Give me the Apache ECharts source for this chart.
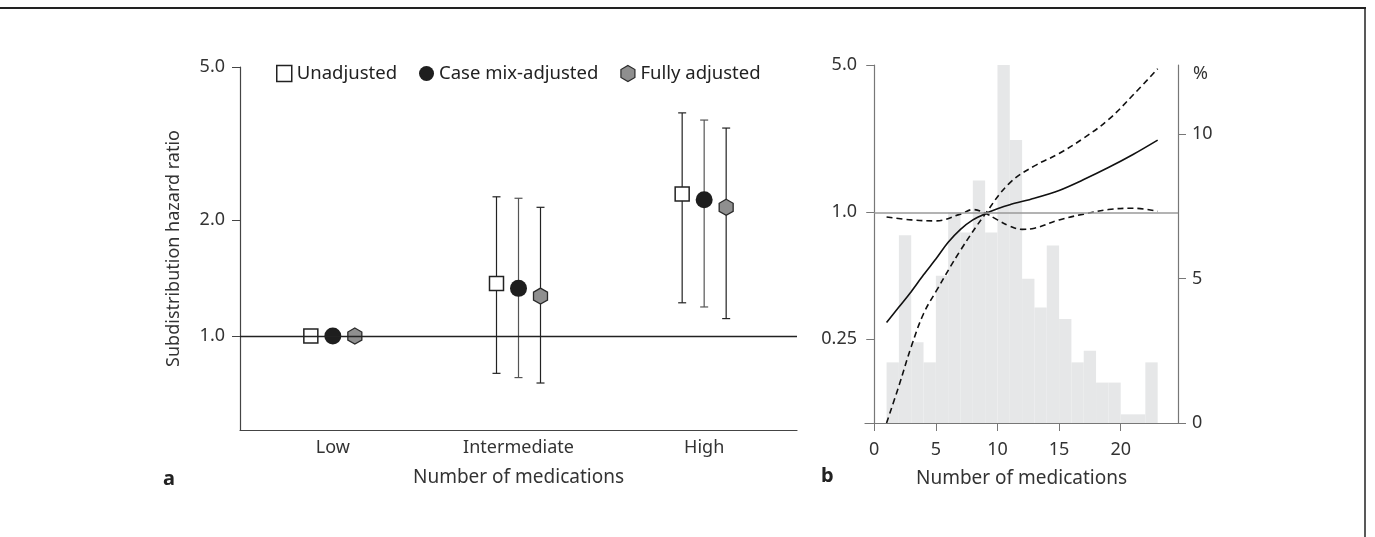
<!DOCTYPE html>
<html>
<head>
<meta charset="utf-8">
<script src="https://cdn.jsdelivr.net/npm/echarts@6/dist/echarts.min.js"></script>
<style>
  html, body { margin: 0; padding: 0; background: #fff; }
  #chart { width: 1375px; height: 537px; }
</style>
</head>
<body>
<div id="chart"></div>
<script>
// panel a: hazard ratio by medication group
const groups = ['Low', 'Intermediate', 'High'];
const unadjEst = [1.0, 1.37, 2.34];
const unadjLo = [null, 0.80, 1.22];
const unadjHi = [null, 2.30, 3.80];
const caseEst = [1.0, 1.33, 2.26];
const caseLo = [null, 0.78, 1.19];
const caseHi = [null, 2.28, 3.64];
const fullEst = [1.0, 1.27, 2.16];
const fullLo = [null, 0.755, 1.11];
const fullHi = [null, 2.16, 3.47];
const leftTicks = [1, 2, 5];

// panel b: spline + histogram
const fitX = [1, 2, 3, 4, 5, 6, 7, 8, 9, 10, 11, 13, 15, 17, 19, 21, 23];
const fitHR = [0.30, 0.355, 0.42, 0.505, 0.60, 0.72, 0.83, 0.92, 0.985, 1.04, 1.087, 1.167, 1.27, 1.43, 1.63, 1.88, 2.2];
const ciAX = [1, 2, 3, 4, 5, 7, 9, 11, 13, 15, 17, 19, 21, 23];
const ciA = [0.1, 0.15, 0.23, 0.33, 0.42, 0.66, 0.98, 1.38, 1.66, 1.9, 2.25, 2.75, 3.6, 4.8];
const ciBX = [1, 3, 5, 7, 8, 9, 10, 11, 12, 13, 15, 17, 19, 21, 23];
const ciB = [0.95, 0.92, 0.91, 0.98, 1.03, 0.99, 0.92, 0.86, 0.83, 0.84, 0.92, 0.98, 1.03, 1.045, 1.01];
const histStart = [1, 2, 3, 4, 5, 6, 7, 8, 9, 10, 11, 12, 13, 14, 15, 16, 17, 18, 19, 20, 21, 22];
const histPct = [2.1, 6.5, 2.8, 2.1, 5.1, 7.3, 6.6, 8.4, 6.6, 12.4, 9.8, 5.0, 4.0, 6.15, 3.6, 2.1, 2.5, 1.4, 1.4, 0.3, 0.3, 2.1];
const rightXTicks = [0, 5, 10, 15, 20];
const rightHRTicks = [0.25, 1, 5];
const pctTicks = [0, 5, 10];

const font = 'Noto Sans';
const txt = '#333';
const hexPath = 'path://M0,-8L7,-4L7,4L0,8L-7,4L-7,-4Z';

const chart = echarts.init(document.getElementById('chart'));

// one estimate series with whiskers, shifted sideways within its category
function dotSeries(name, est, lo, hi, kind, shift, barColor) {
  const data = est.map((v, i) => [i, v, lo[i], hi[i]]);
  return {
    name: name,
    type: 'custom',
    xAxisIndex: 0,
    yAxisIndex: 0,
    data: data,
    renderItem: function (params, api) {
      const i = api.value(0);
      const c = api.coord([i, api.value(1)]);
      const x = c[0] + shift;
      const kids = [];
      const l = api.value(2), h = api.value(3);
      if (l && h) {
        const yl = api.coord([i, l])[1];
        const yh = api.coord([i, h])[1];
        const ls = { stroke: barColor, lineWidth: 1.2 };
        kids.push({ type: 'line', shape: { x1: x, y1: yl, x2: x, y2: yh }, style: ls });
        kids.push({ type: 'line', shape: { x1: x - 4, y1: yl, x2: x + 4, y2: yl }, style: ls });
        kids.push({ type: 'line', shape: { x1: x - 4, y1: yh, x2: x + 4, y2: yh }, style: ls });
      }
      if (kind === 'square') {
        kids.push({ type: 'rect', shape: { x: x - 7, y: c[1] - 7, width: 14, height: 14 },
          style: { fill: '#fff', stroke: '#222', lineWidth: 1.5 } });
      } else if (kind === 'circle') {
        kids.push({ type: 'circle', shape: { cx: x, cy: c[1], r: 8.5 }, style: { fill: '#1e1e1e' } });
      } else {
        const p = [[0, -8], [7, -4], [7, 4], [0, 8], [-7, 4], [-7, -4]].map(q => [x + q[0], c[1] + q[1]]);
        kids.push({ type: 'polygon', shape: { points: p },
          style: { fill: '#8f8f8f', stroke: '#2a2a2a', lineWidth: 1.3 } });
      }
      return { type: 'group', children: kids };
    },
    z: 3
  };
}

const hrFmt = v => (v === 0.25 ? '0.25' : Number(v).toFixed(1));

chart.setOption({
  animation: false,
  textStyle: { fontFamily: font },
  grid: [
    { left: 240, top: 67, width: 557, height: 363 },
    { left: 865, top: 65, width: 313, height: 358 }
  ],
  legend: {
    left: 271,
    top: 59,
    itemWidth: 15,
    itemHeight: 16,
    itemGap: 22,
    textStyle: { fontFamily: font, fontSize: 18.5, color: '#222' },
    data: [
      { name: 'Unadjusted', icon: 'rect', itemStyle: { color: '#fff', borderColor: '#222', borderWidth: 1.5 } },
      { name: 'Case mix-adjusted', icon: 'circle', itemStyle: { color: '#1e1e1e' } },
      { name: 'Fully adjusted', icon: hexPath, itemStyle: { color: '#8f8f8f', borderColor: '#2a2a2a', borderWidth: 1.2 } }
    ]
  },
  xAxis: [
    {
      type: 'category', gridIndex: 0, data: groups,
      boundaryGap: true,
      axisLine: { onZero: false, lineStyle: { color: '#444', width: 1.2 } },
      axisTick: { length: 10, lineStyle: { color: '#444' } },
      axisLabel: { color: txt, fontSize: 18, margin: 9 },
      name: 'Number of medications', nameLocation: 'middle', nameGap: 38,
      nameTextStyle: { color: txt, fontSize: 19 }
    },
    {
      type: 'value', gridIndex: 1, min: -0.75, max: 24.65,
      splitLine: { show: false },
      axisLine: { onZero: false, lineStyle: { color: '#777', width: 1.2 } },
      axisTick: { length: 8, lineStyle: { color: '#777' }, customValues: rightXTicks },
      axisLabel: { color: txt, fontSize: 18, margin: 18, customValues: rightXTicks },
      name: 'Number of medications', nameLocation: 'middle', nameGap: 46,
      nameTextStyle: { color: txt, fontSize: 19 }
    }
  ],
  yAxis: [
    {
      type: 'log', gridIndex: 0, min: 0.57, max: 5,
      splitLine: { show: false },
      axisLine: { show: true, onZero: false, lineStyle: { color: '#444', width: 1.2 } },
      axisTick: { show: true, length: 8, lineStyle: { color: '#444' }, customValues: leftTicks },
      axisLabel: { color: txt, fontSize: 18, margin: 15, customValues: leftTicks, formatter: hrFmt },
      name: 'Subdistribution hazard ratio', nameLocation: 'middle', nameGap: 57,
      nameTextStyle: { color: txt, fontSize: 18 }
    },
    {
      type: 'log', gridIndex: 1, min: 0.1, max: 5,
      splitLine: { show: false },
      axisLine: { show: true, onZero: true, lineStyle: { color: '#777', width: 1.2 } },
      axisTick: { show: true, length: 8, lineStyle: { color: '#777' }, customValues: rightHRTicks },
      axisLabel: { color: txt, fontSize: 18, margin: 8, customValues: rightHRTicks, formatter: hrFmt }
    },
    {
      type: 'value', gridIndex: 1, position: 'right', min: 0, max: 12.4,
      splitLine: { show: false },
      axisLine: { show: true, onZero: false, lineStyle: { color: '#777', width: 1.2 } },
      axisTick: { show: true, length: 8, lineStyle: { color: '#777' }, customValues: pctTicks },
      axisLabel: { color: txt, fontSize: 18, margin: 14, customValues: pctTicks },
      name: '%', nameLocation: 'end', nameGap: -18,
      nameTextStyle: { color: txt, fontSize: 18, align: 'left', padding: [0, 0, 0, 15] }
    }
  ],
  series: [
    {
      type: 'custom', name: 'hist', xAxisIndex: 1, yAxisIndex: 2,
      data: histStart.map((s, i) => [s, s + 1, histPct[i]]),
      renderItem: function (params, api) {
        const p0 = api.coord([api.value(0), 0]);
        const p1 = api.coord([api.value(1), api.value(2)]);
        return { type: 'rect', shape: { x: p0[0], y: p1[1], width: p1[0] - p0[0], height: p0[1] - p1[1] },
          style: { fill: '#e6e7e8' } };
      },
      z: 1
    },
    {
      type: 'line', name: 'fit', xAxisIndex: 1, yAxisIndex: 1,
      data: fitX.map((x, i) => [x, fitHR[i]]),
      smooth: 0.3, symbol: 'none',
      lineStyle: { color: '#111', width: 1.6 },
      markLine: {
        silent: true, symbol: 'none', label: { show: false },
        lineStyle: { color: '#9a9a9a', type: 'solid', width: 1.5 },
        data: [[{ coord: [0, 1] }, { coord: [24.65, 1] }]]
      },
      z: 3
    },
    {
      type: 'line', name: 'ciA', xAxisIndex: 1, yAxisIndex: 1,
      data: ciAX.map((x, i) => [x, ciA[i]]),
      smooth: 0.4, symbol: 'none',
      lineStyle: { color: '#111', width: 1.6, type: [6, 4] },
      z: 3
    },
    {
      type: 'line', name: 'ciB', xAxisIndex: 1, yAxisIndex: 1,
      data: ciBX.map((x, i) => [x, ciB[i]]),
      smooth: 0.4, symbol: 'none',
      lineStyle: { color: '#111', width: 1.6, type: [6, 4] },
      z: 3
    },
    Object.assign(dotSeries('Unadjusted', unadjEst, unadjLo, unadjHi, 'square', -22, '#222'), {
      markLine: {
        silent: true, symbol: 'none', label: { show: false },
        lineStyle: { color: '#222', type: 'solid', width: 1.3 },
        data: [{ yAxis: 1 }]
      }
    }),
    dotSeries('Case mix-adjusted', caseEst, caseLo, caseHi, 'circle', 0, '#555'),
    dotSeries('Fully adjusted', fullEst, fullLo, fullHi, 'hex', 22, '#222')
  ],
  graphic: [
    { type: 'line', shape: { x1: 0, y1: 8, x2: 1366, y2: 8 }, style: { stroke: '#222', lineWidth: 2 } },
    { type: 'line', shape: { x1: 1365, y1: 8, x2: 1365, y2: 537 }, style: { stroke: '#222', lineWidth: 1.5 } },
    { type: 'text', left: 163, top: 469, style: { text: 'a', font: 'bold 20px "Noto Sans"', fill: '#222' } },
    { type: 'text', left: 821, top: 466, style: { text: 'b', font: 'bold 20px "Noto Sans"', fill: '#222' } }
  ]
});
</script>
</body>
</html>
